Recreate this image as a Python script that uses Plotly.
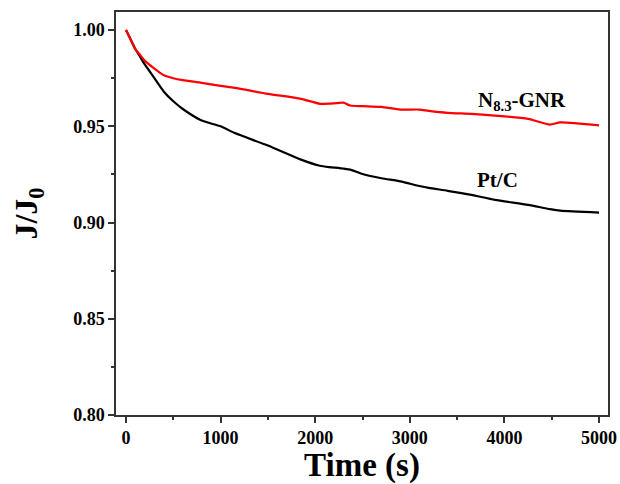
import plotly.graph_objects as go

time_s = [0, 50, 100, 150, 200, 300, 400, 500, 600, 800, 1000, 1150, 1500, 1850, 2050,
          2150, 2260, 2300, 2370, 2500, 2700, 2900, 3100, 3200, 3400, 3650, 3900, 4250,
          4480, 4590, 5000]
pt_c = [1.000, 0.995, 0.990, 0.986, 0.982, 0.975, 0.968, 0.963, 0.959, 0.953, 0.950,
        0.9465, 0.940, 0.9327, 0.9295, 0.9288, 0.9283, 0.928, 0.9275, 0.9252, 0.923,
        0.9214, 0.919, 0.918, 0.9165, 0.9144, 0.9118, 0.9092, 0.907, 0.9062, 0.9052]
n_gnr = [1.000, 0.995, 0.990, 0.987, 0.984, 0.980, 0.9765, 0.975, 0.974, 0.9726, 0.971,
         0.970, 0.9669, 0.9643, 0.9617, 0.9618, 0.9622, 0.9623, 0.9608, 0.9605, 0.9601,
         0.9587, 0.9587, 0.958, 0.957, 0.9565, 0.9556, 0.9539, 0.9509, 0.952, 0.9505]
x_ticks = [0, 1000, 2000, 3000, 4000, 5000]
y_ticks = [0.80, 0.85, 0.90, 0.95, 1.00]

FONT = "Liberation Serif"

fig = go.Figure()
fig.add_trace(go.Scatter(x=time_s, y=pt_c, mode="lines",
                         line=dict(color="black", width=2.2, shape="spline", smoothing=0.6),
                         name="Pt/C"))
fig.add_trace(go.Scatter(x=time_s, y=n_gnr, mode="lines",
                         line=dict(color="#ff0000", width=2.2, shape="spline", smoothing=0.6),
                         name="N8.3-GNR"))

fig.add_annotation(x=4186, y=0.9634, text="<b>N<sub>8.3</sub>-GNR</b>", showarrow=False,
                   font=dict(family=FONT, size=21, color="black"))
fig.add_annotation(x=3932, y=0.9222, text="<b>Pt/C</b>", showarrow=False,
                   font=dict(family=FONT, size=21, color="black"))

fig.update_layout(
    width=620, height=484, showlegend=False,
    margin=dict(l=116, r=12, t=12, b=69, autoexpand=False),
    plot_bgcolor="white", paper_bgcolor="white",
    font=dict(family=FONT, color="black"),
    xaxis=dict(
        range=[-106, 5095], tickmode="array", tickvals=x_ticks,
        ticktext=[f"<b>{v}</b>" for v in x_ticks],
        tickfont=dict(family=FONT, size=18, color="black"),
        showline=True, linecolor="#333333", linewidth=1.5, mirror=True,
        ticks="outside", ticklen=6, tickwidth=1.5, tickcolor="#333333",
        minor=dict(ticks="outside", ticklen=3, tickwidth=1.5, tickcolor="#333333",
                   tickmode="array", tickvals=[500, 1500, 2500, 3500, 4500]),
        showgrid=False, zeroline=False, automargin=False,
        title=dict(text="<b>Time (s)</b>", standoff=4,
                   font=dict(family=FONT, size=33, color="black")),
    ),
    yaxis=dict(
        range=[0.80, 1.0094], tickmode="array", tickvals=y_ticks,
        ticktext=[f"<b>{v:.2f}</b>" for v in y_ticks],
        tickfont=dict(family=FONT, size=18, color="black"),
        showline=True, linecolor="#333333", linewidth=1.5, mirror=True,
        ticks="outside", ticklen=6, tickwidth=1.5, tickcolor="#333333",
        minor=dict(ticks="outside", ticklen=3, tickwidth=1.5, tickcolor="#333333",
                   tickmode="array", tickvals=[0.825, 0.875, 0.925, 0.975]),
        showgrid=False, zeroline=False, automargin=False,
        title=dict(text="<b>J/J<sub>0</sub></b>", standoff=26,
                   font=dict(family=FONT, size=32, color="black")),
    ),
)

fig.write_html("out.html", config={"displayModeBar": False},
               post_script="document.body.style.margin='0';document.body.style.padding='0';")
